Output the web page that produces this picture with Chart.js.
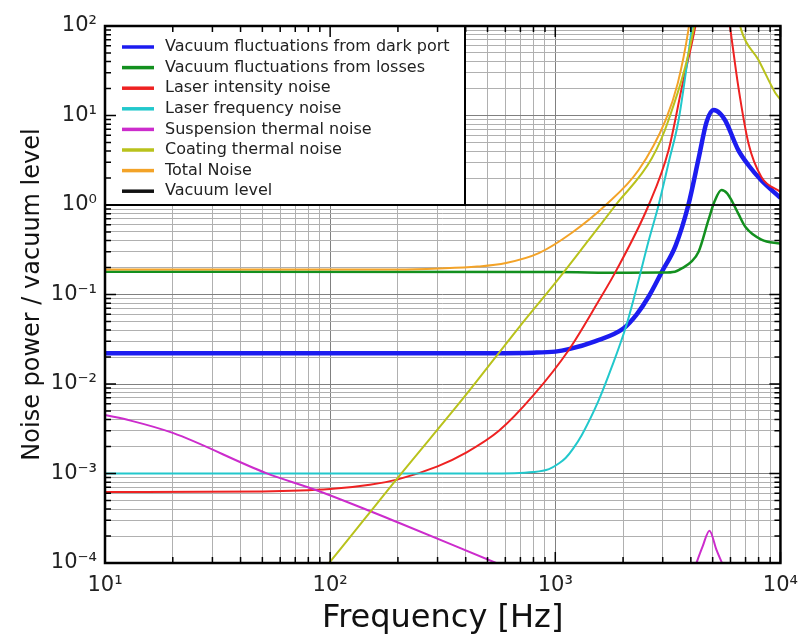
<!DOCTYPE html>
<html>
<head>
<meta charset="utf-8">
<script src="https://cdn.jsdelivr.net/npm/chart.js@4.4.0/dist/chart.umd.min.js"></script>
<style>
  html, body { margin: 0; padding: 0; background: #fff; }
  #wrap { width: 808px; height: 638px; }
</style>
</head>
<body>
<div id="wrap"><canvas id="noiseChart" width="808" height="638"></canvas></div>
<script>
// Noise budget normalised to the vacuum level, log-log axes

const seriesNames = [
    'Vacuum fluctuations from dark port',
    'Vacuum fluctuations from losses',
    'Laser intensity noise',
    'Laser frequency noise',
    'Suspension thermal noise',
    'Coating thermal noise',
    'Total Noise',
    'Vacuum level'
];
const seriesColors = ['#1c1cf0', '#13901f', '#ee2222', '#22c8cc', '#cc2ccc', '#b9c21c', '#f3a328', '#111111'];
const seriesWidths = [4.5, 2.5, 2, 2, 2, 2, 2, 2];

// [Hz] and level
const darkPortFreq  = [10, 300, 800, 1000, 1148, 1500, 2013, 2300, 2600, 2970, 3420, 3900, 4330, 4700, 5050, 5400, 5700, 6500, 7200, 8200, 10000];
const darkPortLevel = [0.022, 0.022, 0.0224, 0.023, 0.0245, 0.03, 0.042, 0.06, 0.095, 0.178, 0.35, 1.0, 3.3, 8.5, 11.5, 10.5, 8.7, 4.1, 2.8, 1.9, 1.2];

const lossesFreq  = [10, 1000, 2000, 3000, 3400, 3700, 4000, 4330, 4790, 5100, 5470, 5800, 6050, 6500, 6980, 8230, 10000];
const lossesLevel = [0.18, 0.178, 0.175, 0.176, 0.18, 0.2, 0.23, 0.3, 0.68, 1.1, 1.47, 1.35, 1.14, 0.8, 0.57, 0.41, 0.37];

const intensityFreq  = [10, 50, 100, 150, 200, 300, 400, 562, 800, 1148, 1560, 1854, 2600, 3185, 3640, 4250, 4700, 5000, 5400, 6000, 6500, 7210, 8230, 10000];
const intensityLevel = [6.2e-4, 6.3e-4, 6.7e-4, 7.5e-4, 8.6e-4, 1.2e-3, 1.7e-3, 3.0e-3, 7.5e-3, 0.024, 0.085, 0.18, 1.0, 4.1, 20, 120, 600, 3000, 600, 90, 21, 4.9, 2.06, 1.4];

const frequencyFreq  = [10, 500, 800, 937, 1040, 1114, 1200, 1312, 1560, 1782, 2056, 2300, 2600, 2877, 3200, 3530, 4030, 4500, 5000];
const frequencyLevel = [1e-3, 1e-3, 1.04e-3, 1.12e-3, 1.3e-3, 1.5e-3, 1.9e-3, 2.7e-3, 6.6e-3, 0.0155, 0.043, 0.12, 0.4, 1.0, 3.1, 8.9, 90, 800, 5000];

const suspensionFreq  = [10, 13, 20, 52, 87, 203, 546, 620, 3000, 4170, 4500, 4840, 5200, 5600];
const suspensionLevel = [4.5e-3, 3.9e-3, 2.84e-3, 1.01e-3, 6.5e-4, 2.8e-4, 1e-4, 8.8e-5, null, 9e-5, 1.5e-4, 2.3e-4, 1.4e-4, 9e-5];

const coatingFreq  = [90, 99, 200, 400, 700, 1000, 1400, 1854, 2680, 3185, 4110, 4600, 5000, 5600, 6700, 7980, 9480, 10000];
const coatingLevel = [7.5e-5, 1e-4, 9e-4, 7.5e-3, 0.045, 0.135, 0.4, 1.0, 3.3, 8.9, 90, 600, 3000, 800, 90, 42, 18, 15];

const totalFreq  = [10, 100, 200, 305, 450, 604, 845, 1185, 1676, 2345, 3090, 3500, 3900, 4300, 4800];
const totalLevel = [0.19, 0.19, 0.19, 0.195, 0.205, 0.225, 0.29, 0.49, 1.0, 2.46, 8.9, 23, 90, 600, 3000];

const vacuumFreq  = [10, 10000];
const vacuumLevel = [1, 1];

const xTickValues = [10, 100, 1000, 10000];
const xTickLabels = ['10\u00B9', '10\u00B2', '10\u00B3', '10\u2074'];
const yTickValues = [1e-4, 1e-3, 1e-2, 1e-1, 1, 10, 100];
const yTickLabels = ['10\u207B\u2074', '10\u207B\u00B3', '10\u207B\u00B2', '10\u207B\u00B9', '10\u2070', '10\u00B9', '10\u00B2'];

const FONT = '"DejaVu Sans", "Liberation Sans", sans-serif';

function toPoints(freqs, levels) {
    return freqs.map((f, i) => ({ x: f, y: levels[i] }));
}

// 1..9 x each decade, for grid lines and inner tick marks
function decadeGrid(majors) {
    const out = [];
    for (let i = 0; i < majors.length - 1; i++) {
        for (let k = 1; k < 10; k++) out.push(k * majors[i]);
    }
    out.push(majors[majors.length - 1]);
    return out;
}
const xGridValues = decadeGrid(xTickValues);
const yGridValues = decadeGrid(yTickValues);

const seriesData = [
    toPoints(darkPortFreq, darkPortLevel),
    toPoints(lossesFreq, lossesLevel),
    toPoints(intensityFreq, intensityLevel),
    toPoints(frequencyFreq, frequencyLevel),
    toPoints(suspensionFreq, suspensionLevel),
    toPoints(coatingFreq, coatingLevel),
    toPoints(totalFreq, totalLevel),
    toPoints(vacuumFreq, vacuumLevel)
];

// legend box inside the plot + black frame with inner ticks
const frameAndLegend = {
    id: 'frameAndLegend',
    afterDatasetsDraw(chart) {
        const { ctx, chartArea, scales } = chart;
        const { left, right, top, bottom } = chartArea;
        ctx.save();

        const boxRight = left + 360;
        const boxBottom = scales.y.getPixelForValue(1);
        ctx.fillStyle = '#fff';
        ctx.fillRect(left, top, boxRight - left, boxBottom - top);
        ctx.strokeStyle = '#000';
        ctx.lineWidth = 2;
        ctx.strokeRect(left, top, boxRight - left, boxBottom - top);

        ctx.font = '16px ' + FONT;
        ctx.textBaseline = 'middle';
        ctx.textAlign = 'left';
        chart.data.datasets.forEach((ds, i) => {
            const y = top + 21 + i * 20.6;
            ctx.strokeStyle = ds.borderColor;
            ctx.lineWidth = 3.5;
            ctx.beginPath();
            ctx.moveTo(left + 17, y);
            ctx.lineTo(left + 49, y);
            ctx.stroke();
            ctx.fillStyle = '#222';
            ctx.fillText(ds.label, left + 60, y);
        });

        ctx.strokeStyle = '#000';
        ctx.lineWidth = 1.5;
        ctx.beginPath();
        xGridValues.forEach(v => {
            const px = scales.x.getPixelForValue(v);
            const len = xTickValues.includes(v) ? 11 : 6;
            ctx.moveTo(px, bottom); ctx.lineTo(px, bottom - len);
            ctx.moveTo(px, top); ctx.lineTo(px, top + len);
        });
        yGridValues.forEach(v => {
            const py = scales.y.getPixelForValue(v);
            const len = yTickValues.includes(v) ? 11 : 6;
            ctx.moveTo(left, py); ctx.lineTo(left + len, py);
            ctx.moveTo(right, py); ctx.lineTo(right - len, py);
        });
        ctx.stroke();

        ctx.lineWidth = 2.5;
        ctx.strokeRect(left, top, right - left, bottom - top);
        ctx.restore();
    }
};

Chart.defaults.font.family = FONT;

new Chart(document.getElementById('noiseChart'), {
    type: 'line',
    data: {
        datasets: seriesNames.map((name, i) => ({
            label: name,
            data: seriesData[i],
            borderColor: seriesColors[i],
            backgroundColor: seriesColors[i],
            borderWidth: seriesWidths[i],
            pointRadius: 0,
            fill: false,
            spanGaps: false,
            cubicInterpolationMode: 'monotone',
            order: seriesNames.length - i
        }))
    },
    options: {
        responsive: false,
        animation: false,
        events: [],
        layout: { padding: { left: 0, top: 26, right: 25, bottom: 0 } },
        plugins: {
            legend: { display: false },
            tooltip: { enabled: false }
        },
        scales: {
            x: {
                type: 'logarithmic',
                min: 10,
                max: 10000,
                afterBuildTicks: s => { s.ticks = xGridValues.map(v => ({ value: v })); },
                afterFit: s => { s.height = 75; },
                border: { display: false },
                grid: {
                    drawTicks: false,
                    lineWidth: 1,
                    color: c => (c.tick && xTickValues.includes(c.tick.value)) ? '#808080' : '#b0b0b0'
                },
                ticks: {
                    autoSkip: false,
                    maxRotation: 0,
                    padding: 10,
                    color: '#222',
                    font: { size: 21 },
                    callback: v => {
                        const i = xTickValues.indexOf(v);
                        return i >= 0 ? xTickLabels[i] : '';
                    }
                },
                title: {
                    display: true,
                    text: 'Frequency [Hz]',
                    color: '#111',
                    font: { size: 32 },
                    padding: { top: 0, bottom: 0 }
                }
            },
            y: {
                type: 'logarithmic',
                min: 1e-4,
                max: 100,
                afterBuildTicks: s => { s.ticks = yGridValues.map(v => ({ value: v })); },
                afterFit: s => { s.width = 105; },
                border: { display: false },
                grid: {
                    drawTicks: false,
                    lineWidth: 1,
                    color: c => (c.tick && yTickValues.includes(c.tick.value)) ? '#808080' : '#b0b0b0'
                },
                ticks: {
                    autoSkip: false,
                    padding: 8,
                    color: '#222',
                    font: { size: 21 },
                    callback: v => {
                        const i = yTickValues.indexOf(v);
                        return i >= 0 ? yTickLabels[i] : '';
                    }
                },
                title: {
                    display: true,
                    text: 'Noise power / vacuum level',
                    color: '#111',
                    font: { size: 24 },
                    padding: { top: 18, bottom: 0 }
                }
            }
        }
    },
    plugins: [frameAndLegend]
});
</script>
</body>
</html>
